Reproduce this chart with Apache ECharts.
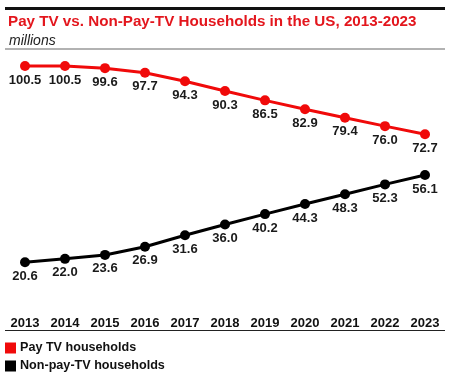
<!DOCTYPE html>
<html>
<head>
<meta charset="utf-8">
<script src="https://cdn.jsdelivr.net/npm/echarts@6/dist/echarts.min.js"></script>
<style>
html,body{margin:0;padding:0;background:#fff;}
#chart{width:451px;height:376px;}
</style>
</head>
<body>
<div id="chart"></div>
<script>
var years = ['2013','2014','2015','2016','2017','2018','2019','2020','2021','2022','2023'];
var payTV = [100.5,100.5,99.6,97.7,94.3,90.3,86.5,82.9,79.4,76.0,72.7];
var nonPayTV = [20.6,22.0,23.6,26.9,31.6,36.0,40.2,44.3,48.3,52.3,56.1];
var seriesNames = ['Pay TV households','Non-pay-TV households'];
var titleText = 'Pay TV vs. Non-Pay-TV Households in the US, 2013-2023';
var subtitleText = 'millions';

var RED = '#f00a0a';
var FONT = 'Liberation Sans, Arial, sans-serif';
var chart = echarts.init(document.getElementById('chart'), null, {renderer:'canvas'});
var labelStyle = {show:true, position:'bottom', distance:2.5, color:'#1a1a1a', fontFamily:FONT, fontWeight:'bold', fontSize:13,
  formatter:function(p){return p.value.toFixed(1);}};
chart.setOption({
  animation:false,
  backgroundColor:'#fff',
  title:[
    {text:titleText, left:3, top:9, textStyle:{color:'#e3161d', fontFamily:FONT, fontWeight:'bold', fontSize:15.2}},
    {text:subtitleText, left:4, top:29, textStyle:{color:'#222', fontFamily:FONT, fontStyle:'italic', fontWeight:'normal', fontSize:14}}
  ],
  graphic:[
    {type:'rect', shape:{x:5,y:7,width:440,height:3}, style:{fill:'#111'}},
    {type:'rect', shape:{x:5,y:48.5,width:440,height:1}, style:{fill:'#666'}},
    {type:'rect', shape:{x:5,y:330,width:440,height:1}, style:{fill:'#222'}}
  ],
  legend:{
    orient:'vertical', left:5, top:341.5, bottom:0, padding:0, itemWidth:11, itemHeight:11, itemGap:5, icon:'rect',
    textStyle:{color:'#111', fontFamily:FONT, fontWeight:'bold', fontSize:12.6, padding:[0,0,0,-1]},
    data:seriesNames
  },
  grid:{left:25, width:400, top:42.6, bottom:63.1, containLabel:false},
  xAxis:{type:'category', data:years, boundaryGap:false,
    axisLine:{show:false}, axisTick:{show:false}, splitLine:{show:false},
    axisLabel:{margin:4, color:'#111', fontFamily:FONT, fontWeight:'bold', fontSize:13, interval:0}},
  yAxis:{type:'value', min:0, max:110, show:false, splitLine:{show:false}},
  series:[
    {name:seriesNames[0], type:'line', data:payTV, color:RED, symbol:'circle', symbolSize:10,
     lineStyle:{width:3, color:RED}, itemStyle:{color:RED}, label:labelStyle},
    {name:seriesNames[1], type:'line', data:nonPayTV, color:'#000', symbol:'circle', symbolSize:10,
     lineStyle:{width:3, color:'#000'}, itemStyle:{color:'#000'}, label:labelStyle}
  ]
});
</script>
</body>
</html>
